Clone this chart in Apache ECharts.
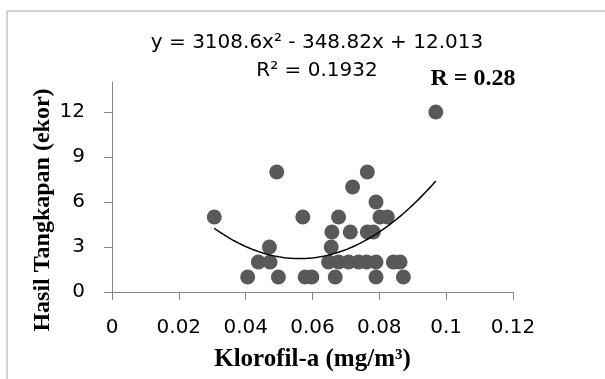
<!DOCTYPE html>
<html>
<head>
<meta charset="utf-8">
<script src="https://cdn.jsdelivr.net/npm/echarts@6/dist/echarts.min.js"></script>
<style>html,body{margin:0;padding:0;background:#fff}#c{width:605px;height:379px}</style>
</head>
<body>
<div id="c"></div>
<script>
// Klorofil-a (mg/m3) and Hasil Tangkapan (ekor)
var klorofil = [0.0969, 0.0493, 0.0764, 0.0720, 0.0790,
  0.0306, 0.0571, 0.0678, 0.0802, 0.0824,
  0.0658, 0.0713, 0.0764, 0.0782,
  0.0471, 0.0656,
  0.0438, 0.0473, 0.0648, 0.0678, 0.0708, 0.0738, 0.0762, 0.0790, 0.0842, 0.0862,
  0.0406, 0.0498, 0.0578, 0.0598, 0.0668, 0.0790, 0.0872];
var hasil = [12, 8, 8, 7, 6,
  5, 5, 5, 5, 5,
  4, 4, 4, 4,
  3, 3,
  2, 2, 2, 2, 2, 2, 2, 2, 2, 2,
  1, 1, 1, 1, 1, 1, 1];
// Polynomial trendline coefficients as printed on the chart: a*x^2 + b*x + c
var trendCoef = [3108.6, -348.82, 12.013];
var xTicks = [0, 0.02, 0.04, 0.06, 0.08, 0.1, 0.12];
var yTicks = [0, 3, 6, 9, 12];
var equationText = 'y = 3108.6x\u00B2 - 348.82x + 12.013';
var r2Text = 'R\u00B2 = 0.1932';
var rText = 'R = 0.28';

var points = klorofil.map(function (x, i) { return [x, hasil[i]]; });
var xmin = Math.min.apply(null, klorofil), xmax = Math.max.apply(null, klorofil);
var trend = [];
for (var k = 0; k <= 100; k++) {
  var x = xmin + (xmax - xmin) * k / 100;
  trend.push([x, trendCoef[0] * x * x + trendCoef[1] * x + trendCoef[2]]);
}

var chart = echarts.init(document.getElementById('c'), null, {renderer: 'canvas'});
var axisColor = '#868686';
chart.setOption({
  animation: false,
  backgroundColor: '#fff',
  grid: {left: 112, top: 82, width: 401, height: 210, containLabel: false, outerBoundsMode: 'none'},
  xAxis: {
    type: 'value', min: 0, max: 0.12, interval: 0.02,
    splitLine: {show: false},
    axisLine: {lineStyle: {color: axisColor, width: 1}},
    axisTick: {length: 8, lineStyle: {color: axisColor}},
    axisLabel: {color: '#000', fontFamily: 'DejaVu Sans', fontSize: 20, margin: 26,
      customValues: xTicks},
    name: 'Klorofil-a (mg/m\u00B3)', nameLocation: 'middle', nameGap: 55,
    nameTextStyle: {fontFamily: 'Liberation Serif', fontWeight: 'bold', fontSize: 25, color: '#000'}
  },
  yAxis: {
    type: 'value', min: 0, max: 14, interval: 3,
    splitLine: {show: false},
    axisLine: {show: true, lineStyle: {color: axisColor, width: 1}},
    axisTick: {show: true, length: 8, lineStyle: {color: axisColor}, customValues: yTicks},
    axisLabel: {color: '#000', fontFamily: 'DejaVu Sans', fontSize: 20, margin: 27,
      customValues: yTicks}
  },
  series: [
    {type: 'scatter', data: points, symbolSize: 15,
      itemStyle: {color: '#595959', opacity: 1}, z: 2},
    {type: 'line', data: trend, showSymbol: false, smooth: false,
      lineStyle: {color: '#000', width: 1.5}, z: 3}
  ],
  graphic: [
    {type: 'rect', shape: {x: 7, y: 11, width: 620, height: 400},
      style: {fill: 'none', stroke: '#a6a6a6', lineWidth: 1}, silent: true},
    {type: 'text', x: 317, y: 43, style: {text: equationText, fill: '#000',
      font: '20px "DejaVu Sans"', textAlign: 'center', textVerticalAlign: 'middle'}},
    {type: 'text', x: 317, y: 71, style: {text: r2Text, fill: '#000',
      font: '20px "DejaVu Sans"', textAlign: 'center', textVerticalAlign: 'middle'}},
    {type: 'text', x: 473, y: 79, style: {text: rText, fill: '#000',
      font: 'bold 24px "Liberation Serif"', textAlign: 'center', textVerticalAlign: 'middle'}},
    {type: 'text', x: 43, y: 210, rotation: Math.PI / 2, style: {text: 'Hasil Tangkapan (ekor)', fill: '#000',
      font: 'bold 24px "Liberation Serif"', textAlign: 'center', textVerticalAlign: 'middle'}}
  ]
});
</script>
</body>
</html>
